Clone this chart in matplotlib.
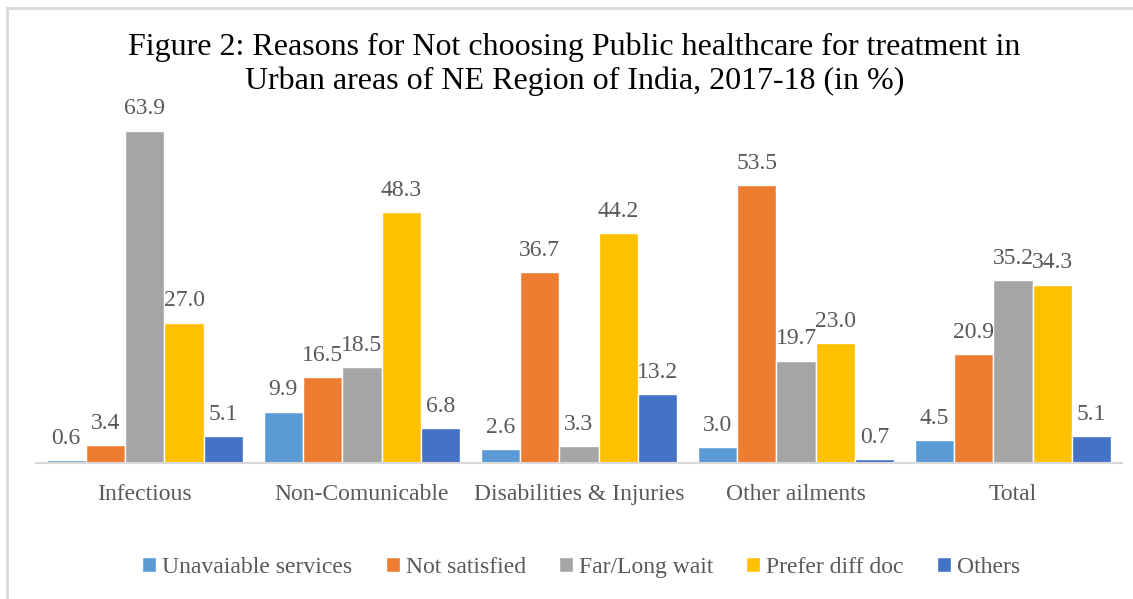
import matplotlib.pyplot as plt
import numpy as np
from matplotlib.patches import Rectangle

# data
categories = ["Infectious", "Non-Comunicable", "Disabilities & Injuries", "Other ailments", "Total"]
series_names = ["Unavaiable services", "Not satisfied", "Far/Long wait", "Prefer diff doc", "Others"]
unavailable = [0.6, 9.9, 2.6, 3.0, 4.5]
not_satisfied = [3.4, 16.5, 36.7, 53.5, 20.9]
far_wait = [63.9, 18.5, 3.3, 19.7, 35.2]
prefer_doc = [27.0, 48.3, 44.2, 23.0, 34.3]
others = [5.1, 6.8, 13.2, 0.7, 5.1]
colors = ["#5b9bd5", "#ed7d31", "#a5a5a5", "#ffc000", "#4472c4"]

plt.rcParams['font.family'] = ['Liberation Serif', 'DejaVu Serif']
txt = "#595959"

fig = plt.figure(figsize=(11.33, 5.99), dpi=100)
ax = fig.add_axes([0.032, 0.227, 0.958, 0.608])

x = np.arange(len(categories))
w = 0.181
all_series = [unavailable, not_satisfied, far_wait, prefer_doc, others]
for i, (vals, name, c) in enumerate(zip(all_series, series_names, colors)):
    pos = x + (i - 2) * w
    ax.bar(pos, vals, w, color=c, edgecolor="white", linewidth=1, label=name)
    for p, v in zip(pos, vals):
        ax.annotate(f"{v:.1f}", (p, v), xytext=(0, 8), textcoords="offset points",
                    ha="center", va="bottom", fontsize=17, color=txt)

ax.set_xlim(-0.5, len(categories) - 0.5)
ax.set_ylim(0, 70)
ax.set_yticks([])
ax.set_xticks(x)
ax.set_xticklabels(categories, fontsize=17, color=txt)
ax.tick_params(axis="x", length=0, pad=15)
for s in ["top", "right", "left"]:
    ax.spines[s].set_visible(False)
ax.spines["bottom"].set_color("#d9d9d9")
ax.spines["bottom"].set_linewidth(1.5)

fig.suptitle("Figure 2: Reasons for Not choosing Public healthcare for treatment in\n"
             "Urban areas of NE Region of India, 2017-18 (in %)",
             fontsize=23, y=0.946, va="top", linespacing=1.22, x=0.507)

leg = fig.legend(loc="center", bbox_to_anchor=(0.513, 0.053), ncol=5, frameon=False,
                 fontsize=17, handlelength=0.6, handleheight=0.6, handletextpad=0.25,
                 columnspacing=1.4)
for t in leg.get_texts():
    t.set_color(txt)

fig.patches.append(Rectangle((0.006, -0.05), 1.1, 1.037, transform=fig.transFigure,
                             fill=False, edgecolor="#d9d9d9", linewidth=2))

fig.savefig("out.png", dpi=100)
